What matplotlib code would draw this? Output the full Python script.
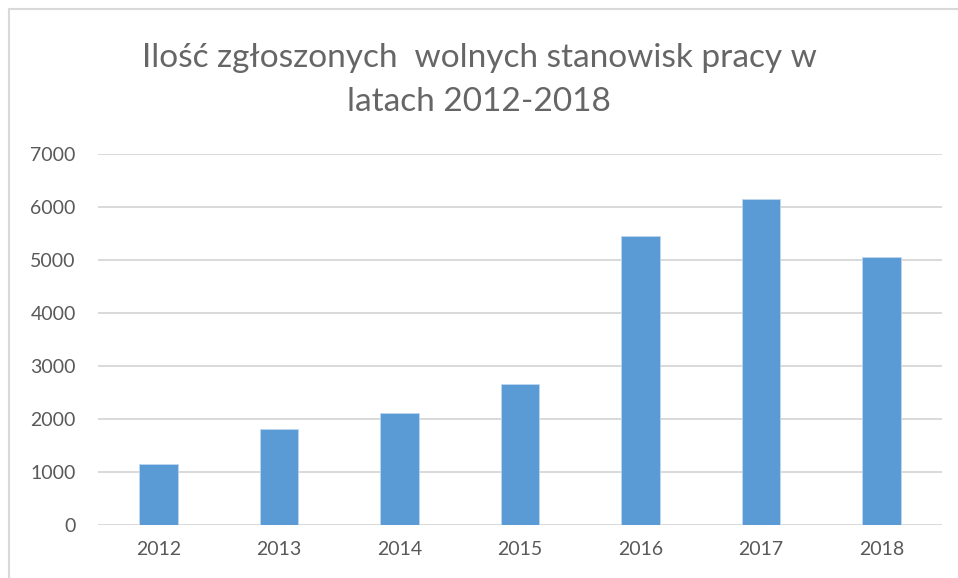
import matplotlib
matplotlib.use('Agg')
import matplotlib.pyplot as plt
from matplotlib.lines import Line2D

# dane
years = ['2012', '2013', '2014', '2015', '2016', '2017', '2018']
values = [1150, 1810, 2100, 2655, 5445, 6145, 5060]
yticks = [0, 1000, 2000, 3000, 4000, 5000, 6000, 7000]
title = 'Ilość zgłoszonych  wolnych stanowisk pracy w\nlatach 2012-2018'

plt.rcParams['font.family'] = ['Lato', 'DejaVu Sans']
text_col = '#595959'
grid_col = '#d9d9d9'
bar_col = '#5b9bd5'

W, H = 958, 578
fig = plt.figure(figsize=(W / 100, H / 100), dpi=100)
ax = fig.add_axes([98 / W, (H - 524.5) / H, (942 - 98) / W, 370.5 / H])

ax.bar(range(len(years)), values, width=0.32, color=bar_col,
       edgecolor='#bdd7ee', linewidth=0.6, zorder=3)
ax.set_xlim(-0.5, len(years) - 0.5)
ax.set_ylim(0, 7000)
ax.set_yticks(yticks)
ax.set_xticks(range(len(years)))
ax.set_xticklabels(years)
ax.grid(axis='y', color=grid_col, linewidth=1.4, zorder=0)
ax.tick_params(axis='both', length=0, labelsize=14, labelcolor=text_col)
ax.tick_params(axis='y', pad=16)
ax.tick_params(axis='x', pad=12)
for s in ax.spines.values():
    s.set_visible(False)

fig.text(0.5, (H - 80) / H, title, ha='center', va='center', fontsize=24,
         color='#666666', linespacing=1.55)

# ramka wykresu
fig.add_artist(Line2D([9 / W, 9 / W], [0, (H - 9) / H], color=grid_col, linewidth=1.5))
fig.add_artist(Line2D([9 / W, 1], [(H - 9) / H, (H - 9) / H], color=grid_col, linewidth=1.5))

plt.savefig('out.png', dpi=100)
